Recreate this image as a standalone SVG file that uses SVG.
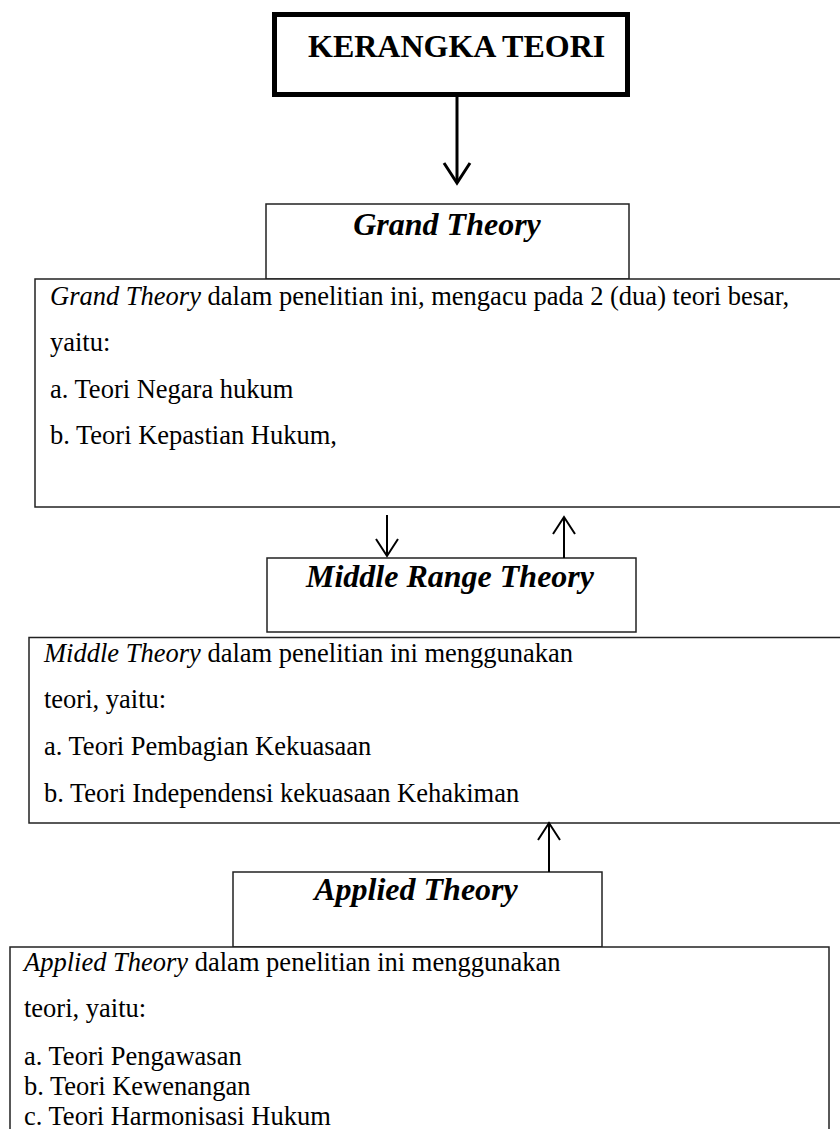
<svg xmlns="http://www.w3.org/2000/svg" width="840" height="1129" viewBox="0 0 840 1129">
<defs>
<style>
.box{fill:#fff;stroke:#222;stroke-width:1.5}
.title{font-family:"Liberation Serif","Times New Roman",serif;font-size:32px;font-weight:bold;fill:#000}
.ti{font-style:italic}
.body{font-family:"Liberation Serif","Times New Roman",serif;font-size:26.5px;fill:#000}
.it{font-style:italic}
.conn{stroke:#000;fill:none}
</style>
<marker id="arrBig" markerUnits="userSpaceOnUse" viewBox="-24 -16 28 32" refX="0" refY="0" markerWidth="28" markerHeight="32" orient="auto">
<path d="M-20,-13 L0,0 L-20,13" fill="none" stroke="#000" stroke-width="3"/>
</marker>
<marker id="arrSmall" markerUnits="userSpaceOnUse" viewBox="-22 -14 26 28" refX="0" refY="0" markerWidth="26" markerHeight="28" orient="auto">
<path d="M-17,-11 L0,0 L-17,11" fill="none" stroke="#000" stroke-width="2"/>
</marker>
</defs>
<rect width="840" height="1129" fill="#fff"/>

<g id="kerangka">
<rect x="274.5" y="14.5" width="353" height="80" fill="#fff" stroke="#000" stroke-width="5"/>
<text class="title" x="308" y="57">KERANGKA TEORI</text>
</g>

<g id="grand-theory">
<rect class="box" x="266" y="204" width="363" height="75"/>
<text class="title ti" x="447" y="235" text-anchor="middle">Grand Theory</text>
</g>

<g id="grand-desc">
<rect class="box" x="35" y="279" width="815" height="228"/>
<text class="body" x="50" y="305"><tspan class="it">Grand Theory</tspan> dalam penelitian ini, mengacu pada 2 (dua) teori besar,</text>
<text class="body" x="50" y="351">yaitu:</text>
<text class="body" x="50" y="398">a. Teori Negara hukum</text>
<text class="body" x="50" y="444">b. Teori Kepastian Hukum,</text>
</g>

<g id="middle-theory">
<rect class="box" x="267" y="558" width="369" height="74"/>
<text class="title ti" x="450" y="587" text-anchor="middle">Middle Range Theory</text>
</g>

<g id="middle-desc">
<rect class="box" x="29" y="637.5" width="821" height="185.5"/>
<text class="body" x="44" y="662"><tspan class="it">Middle Theory</tspan> dalam penelitian ini menggunakan</text>
<text class="body" x="44" y="708">teori, yaitu:</text>
<text class="body" x="44" y="755">a. Teori Pembagian Kekuasaan</text>
<text class="body" x="44" y="802">b. Teori Independensi kekuasaan Kehakiman</text>
</g>

<g id="applied-theory">
<rect class="box" x="233" y="872" width="369" height="75"/>
<text class="title ti" x="416" y="900" text-anchor="middle">Applied Theory</text>
</g>

<g id="applied-desc">
<rect class="box" x="10" y="947" width="819" height="200"/>
<text class="body" x="24" y="971"><tspan class="it">Applied Theory</tspan> dalam penelitian ini menggunakan</text>
<text class="body" x="24" y="1017">teori, yaitu:</text>
<text class="body" x="24" y="1065">a. Teori Pengawasan</text>
<text class="body" x="24" y="1095">b. Teori Kewenangan</text>
<text class="body" x="24" y="1125">c. Teori Harmonisasi Hukum</text>
</g>

<g id="connectors">
<line class="conn" x1="457" y1="97" x2="457" y2="183" stroke-width="3" marker-end="url(#arrBig)"/>
<line class="conn" x1="387" y1="515" x2="387" y2="556" stroke-width="2" marker-end="url(#arrSmall)"/>
<line class="conn" x1="564" y1="558" x2="564" y2="517" stroke-width="2" marker-end="url(#arrSmall)"/>
<line class="conn" x1="549" y1="872" x2="549" y2="823" stroke-width="2" marker-end="url(#arrSmall)"/>
</g>
</svg>
